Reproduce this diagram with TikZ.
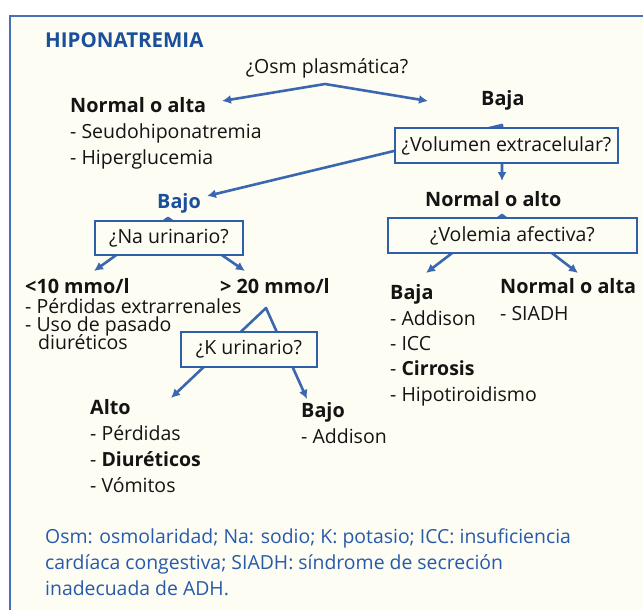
\documentclass[tikz,border=0pt]{standalone}
\usepackage{fontspec}
\setmainfont{Open Sans}
\usetikzlibrary{arrows.meta}
\definecolor{cream}{RGB}{253,253,243}
\definecolor{framebl}{RGB}{72,112,182}
\definecolor{arrowbl}{RGB}{58,103,176}
\definecolor{boxbl}{RGB}{48,95,170}
\definecolor{titlebl}{RGB}{26,79,156}
\definecolor{footbl}{RGB}{40,90,170}
\definecolor{ink}{RGB}{20,20,20}
\pgfdeclarelayer{bgl}
\pgfdeclarelayer{linel}
\pgfsetlayers{bgl,linel,main}
\begin{document}
\begin{tikzpicture}[x=1pt,y=-1pt,
  txt/.style={anchor=base west,inner sep=0pt,text=ink,font=\fontsize{19.5}{22}\selectfont},
  btxt/.style={txt,font=\fontsize{19.8}{22}\selectfont\bfseries},
  qbox/.style={draw=boxbl,line width=1.4pt,fill=cream,inner sep=0pt,text=ink,font=\fontsize{19.5}{22}\selectfont},
  conn/.style={draw=arrowbl,line width=2.6pt,line join=round},
  tipboth/.style={{Latex[length=9pt,width=9pt]}-{Latex[length=9pt,width=9pt]}},
  foot/.style={anchor=base west,inner sep=0pt,text=footbl,font=\fontsize{19.4}{22}\selectfont}]
\useasboundingbox (0,0) rectangle (643,610);
\begin{pgfonlayer}{bgl}
\fill[white] (0,0) rectangle (643,610);
\begin{scope}
\clip (0,0) rectangle (643,610);
\draw[draw=framebl,line width=2pt,fill=cream] (10,16) rectangle (690,660);
\end{scope}
\end{pgfonlayer}

% title
\node[anchor=base west,inner sep=0pt,text=titlebl,font=\fontsize{20.5}{22}\selectfont\bfseries] (title) at (45,48) {HIPONATREMIA};
\node[txt,anchor=base] (osm) at (327,74) {¿Osm plasmática?};

% left branch
\node[btxt] (nalta) at (70,112) {Normal o alta};
\node[txt] (seudo) at (70,138) {- Seudohiponatremia};
\node[txt] (hiperg) at (70,164) {- Hiperglucemia};

\node[btxt] (baja1) at (481,106) {Baja};
\node[qbox,minimum width=223pt,minimum height=35pt] (vol) at (506.5,145.5) {¿Volumen extracelular?};

\node[btxt,text=titlebl] (bajo1) at (157,208) {Bajo};
\node[btxt] (nalto) at (425,206) {Normal o alto};

\node[qbox,minimum width=148pt,minimum height=34pt] (na) at (169,238) {¿Na urinario?};
\node[qbox,minimum width=249pt,minimum height=35pt] (volem) at (512.5,235.5) {¿Volemia afectiva?};

\node[btxt] (m10) at (25,293) {<10 mmo/l};
\node[btxt] (m20) at (220,293) {> 20 mmo/l};
\node[txt] (perdext) at (25,313) {- Pérdidas extrarrenales};
\node[txt] (uso) at (25,331) {- Uso de pasado};
\node[txt] (diur) at (38,349) {diuréticos};

\node[qbox,minimum width=136pt,minimum height=35pt] (k) at (249,349.5) {¿K urinario?};

\node[btxt] (baja2) at (390,299) {Baja};
\node[txt] (addis1) at (390,325) {- Addison};
\node[txt] (icc) at (390,350) {- ICC};
\node[txt] (cirr) at (390,375) {- \textbf{Cirrosis}};
\node[txt] (hipot) at (390,401) {- Hipotiroidismo};

\node[btxt] (nalta2) at (500,293) {Normal o alta};
\node[txt] (siadh) at (500,320) {- SIADH};

\node[btxt] (alto) at (90,414) {Alto};
\node[txt] (perd) at (90,440) {- Pérdidas};
\node[txt] (diur2) at (90,466) {- \textbf{Diuréticos}};
\node[txt] (vom) at (90,492) {- Vómitos};

\node[btxt] (bajo2) at (301,417) {Bajo};
\node[txt] (addis2) at (301,443) {- Addison};

\node[foot] (f1) at (45,543) {Osm: osmolaridad; Na: sodio; K: potasio; ICC: insuficiencia};
\node[foot] (f2) at (45,569) {cardíaca congestiva; SIADH: síndrome de secreción};
\node[foot] (f3) at (45,595) {inadecuada de ADH.};

% connector points
\coordinate (osmapex) at (325,84);
\coordinate (osmL) at (222,101);
\coordinate (osmR) at (428,101);
\coordinate (volapex) at (502,125);
\coordinate (volL) at (207,196);
\coordinate (volD) at (502,181);
\coordinate (naapex) at (168,218);
\coordinate (naL) at (94,271);
\coordinate (naR) at (245,271);
\coordinate (veapex) at (502,215);
\coordinate (veL) at (426,273);
\coordinate (veR) at (578,273);
\coordinate (kapex) at (266,308);
\coordinate (kL) at (171,398);
\coordinate (kR) at (307,399);

\begin{pgfonlayer}{linel}
\draw[conn,tipboth] (osmL) -- (osmapex) -- (osmR);
\draw[conn,tipboth] (volL) -- (volapex) -- (volD);
\draw[conn,tipboth] (naL) -- (naapex) -- (naR);
\draw[conn,tipboth] (veL) -- (veapex) -- (veR);
\draw[conn,tipboth] (kL) -- (kapex) -- (kR);
\end{pgfonlayer}
\end{tikzpicture}
\end{document}
